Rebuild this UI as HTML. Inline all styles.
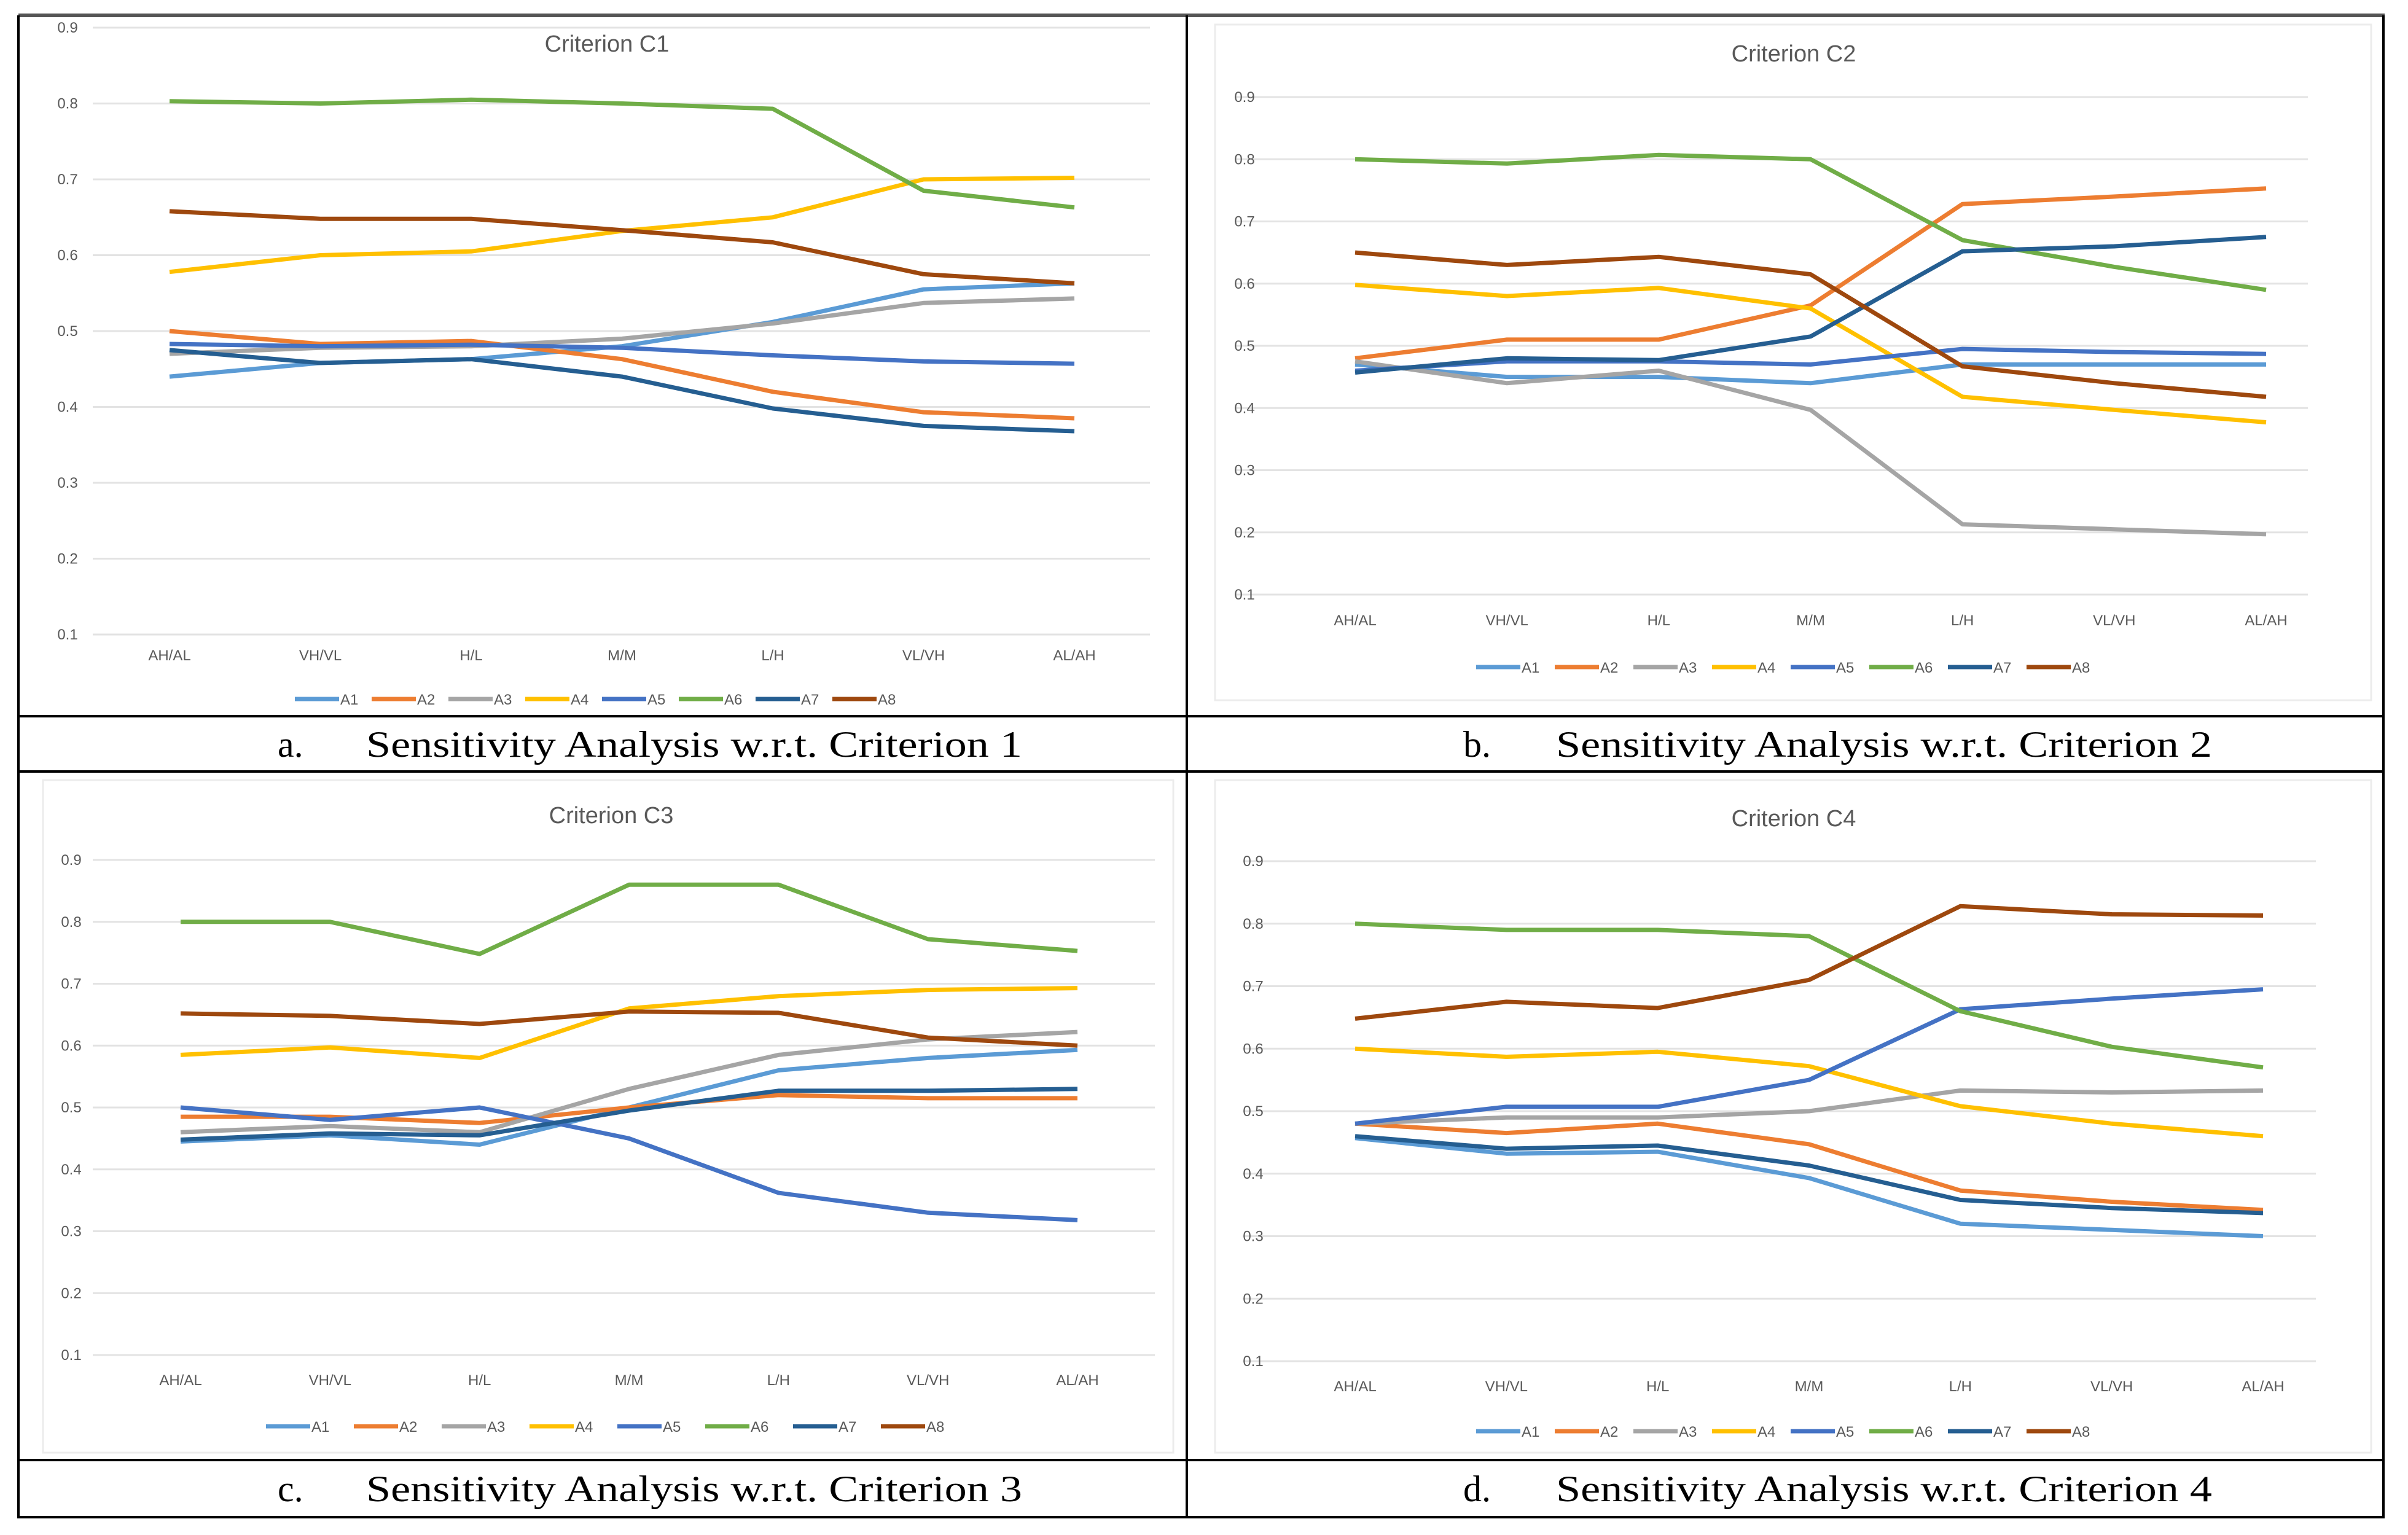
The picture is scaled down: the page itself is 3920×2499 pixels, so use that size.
<!DOCTYPE html>
<html><head><meta charset="utf-8">
<style>
html,body{margin:0;padding:0;background:#fff;}
svg{display:block;}
.tk{font-family:"Liberation Sans",sans-serif;font-size:24px;fill:#595959;}
.ttl{font-family:"Liberation Sans",sans-serif;font-size:38px;fill:#595959;}
.cap{font-family:"Liberation Serif",serif;font-size:60px;fill:#000;}
</style></head>
<body>
<svg id="page" width="3920" height="2499" viewBox="0 0 3920 2499" xmlns="http://www.w3.org/2000/svg">
<rect x="0" y="0" width="3920" height="2499" fill="#fff"/>
<g id="frame" stroke="#000" stroke-width="4" fill="none">
<line x1="30" y1="25" x2="3882" y2="25" stroke="#555" stroke-width="6"/>
<line x1="30" y1="25" x2="30" y2="2472"/>
<line x1="3880" y1="25" x2="3880" y2="2472"/>
<line x1="1932" y1="25" x2="1932" y2="2472"/>
<line x1="30" y1="1166" x2="3880" y2="1166"/>
<line x1="30" y1="1256" x2="3880" y2="1256"/>
<line x1="30" y1="2377" x2="3880" y2="2377"/>
<line x1="30" y1="2470" x2="3880" y2="2470"/>
</g>
<text class="cap" x="452" y="1232">a.</text>
<text class="cap" x="596" y="1232" textLength="1068" lengthAdjust="spacingAndGlyphs">Sensitivity Analysis w.r.t. Criterion 1</text>
<text class="cap" x="2382" y="1232">b.</text>
<text class="cap" x="2533" y="1232" textLength="1068" lengthAdjust="spacingAndGlyphs">Sensitivity Analysis w.r.t. Criterion 2</text>
<text class="cap" x="452" y="2444">c.</text>
<text class="cap" x="596" y="2444" textLength="1068" lengthAdjust="spacingAndGlyphs">Sensitivity Analysis w.r.t. Criterion 3</text>
<text class="cap" x="2382" y="2444">d.</text>
<text class="cap" x="2533" y="2444" textLength="1068" lengthAdjust="spacingAndGlyphs">Sensitivity Analysis w.r.t. Criterion 4</text>
</svg>
<script>
const categories = ["AH/AL","VH/VL","H/L","M/M","L/H","VL/VH","AL/AH"];
const seriesNames = ["A1","A2","A3","A4","A5","A6","A7","A8"];
const yTicks = [0.1,0.2,0.3,0.4,0.5,0.6,0.7,0.8,0.9];
const c1A1=[0.44,0.458,0.463,0.48,0.512,0.555,0.563];
const c1A2=[0.50,0.483,0.487,0.463,0.42,0.393,0.385];
const c1A3=[0.47,0.478,0.48,0.49,0.51,0.537,0.543];
const c1A4=[0.578,0.60,0.605,0.632,0.65,0.70,0.702];
const c1A5=[0.483,0.48,0.482,0.478,0.468,0.46,0.457];
const c1A6=[0.803,0.80,0.805,0.80,0.793,0.685,0.663];
const c1A7=[0.475,0.458,0.463,0.44,0.398,0.375,0.368];
const c1A8=[0.658,0.648,0.648,0.633,0.617,0.575,0.563];
const c2A1=[0.47,0.45,0.45,0.44,0.47,0.47,0.47];
const c2A2=[0.48,0.51,0.51,0.565,0.728,0.74,0.753];
const c2A3=[0.475,0.44,0.46,0.397,0.213,0.205,0.197];
const c2A4=[0.598,0.58,0.593,0.56,0.418,0.397,0.377];
const c2A5=[0.46,0.475,0.475,0.47,0.495,0.49,0.487];
const c2A6=[0.80,0.793,0.807,0.80,0.67,0.627,0.59];
const c2A7=[0.457,0.48,0.477,0.515,0.652,0.66,0.675];
const c2A8=[0.65,0.63,0.643,0.615,0.467,0.44,0.418];
const c3A1=[0.445,0.455,0.44,0.50,0.56,0.58,0.593];
const c3A2=[0.485,0.485,0.475,0.50,0.52,0.515,0.515];
const c3A3=[0.46,0.47,0.46,0.53,0.585,0.61,0.622];
const c3A4=[0.585,0.597,0.58,0.66,0.68,0.69,0.693];
const c3A5=[0.50,0.48,0.50,0.45,0.362,0.33,0.318];
const c3A6=[0.80,0.80,0.748,0.86,0.86,0.772,0.753];
const c3A7=[0.448,0.458,0.455,0.495,0.527,0.527,0.53];
const c3A8=[0.652,0.648,0.635,0.655,0.653,0.613,0.60];
const c4A1=[0.457,0.432,0.435,0.393,0.32,0.31,0.30];
const c4A2=[0.48,0.465,0.48,0.447,0.373,0.355,0.342];
const c4A3=[0.48,0.49,0.49,0.50,0.533,0.53,0.533];
const c4A4=[0.60,0.587,0.595,0.572,0.508,0.48,0.46];
const c4A5=[0.48,0.507,0.507,0.55,0.663,0.68,0.695];
const c4A6=[0.80,0.79,0.79,0.78,0.66,0.603,0.57];
const c4A7=[0.46,0.44,0.445,0.413,0.358,0.345,0.337];
const c4A8=[0.648,0.675,0.665,0.71,0.828,0.815,0.813];

const colors=["#5B9BD5","#ED7D31","#A5A5A5","#FFC000","#4472C4","#70AD47","#255E91","#9E480E"];
const NS="http://www.w3.org/2000/svg";
const svg=document.getElementById('page');
function mk(tag,attrs,parent){const e=document.createElementNS(NS,tag);for(const k in attrs)e.setAttribute(k,attrs[k]);(parent||svg).appendChild(e);return e;}

const panels=[
 {id:"c1",title:"Criterion C1",series:[c1A1,c1A2,c1A3,c1A4,c1A5,c1A6,c1A7,c1A8],gx0:151,gx1:1872,y9:45,y1:1033,cx0:276,cx1:1749,ylx:110,xly:1075,tx:988,ty:84,legY:1138,legC:980,legS:125,box:null},
 {id:"c2",title:"Criterion C2",series:[c2A1,c2A2,c2A3,c2A4,c2A5,c2A6,c2A7,c2A8],gx0:2010,gx1:3757,y9:158,y1:968,cx0:2206,cx1:3689,ylx:2026,xly:1018,tx:2920,ty:100,legY:1086,legC:2915,legS:128,box:[1978,40,3860,1140]},
 {id:"c3",title:"Criterion C3",series:[c3A1,c3A2,c3A3,c3A4,c3A5,c3A6,c3A7,c3A8],gx0:151,gx1:1880,y9:1400,y1:2206,cx0:294,cx1:1754,ylx:116,xly:2255,tx:995,ty:1340,legY:2322,legC:1005,legS:143,box:[70,1270,1910,2365]},
 {id:"c4",title:"Criterion C4",series:[c4A1,c4A2,c4A3,c4A4,c4A5,c4A6,c4A7,c4A8],gx0:2023,gx1:3770,y9:1402,y1:2216,cx0:2206,cx1:3684,ylx:2040,xly:2265,tx:2920,ty:1345,legY:2330,legC:2915,legS:128,box:[1978,1270,3860,2365]}
];

panels.forEach(p=>{
 const g=mk('g',{});
 
 
 if(p.box){
  const b=mk('rect',{x:p.box[0],y:p.box[1],width:p.box[2]-p.box[0],height:p.box[3]-p.box[1],fill:'none',stroke:'#ececec','stroke-width':3},g);
  
  
 }
 const yS=v=>p.y1+(v-0.1)/(0.8)*(p.y9-p.y1);
 const xS=i=>p.cx0+i*(p.cx1-p.cx0)/(categories.length-1);
 yTicks.forEach(t=>{
  const l=mk('line',{x1:p.gx0,x2:p.gx1,y1:yS(t),y2:yS(t),stroke:'#e3e3e3','stroke-width':3},g);
  
  
  const tx=mk('text',{x:p.ylx,y:yS(t)+8,'class':'tk','text-anchor':'middle'},g);
  tx.textContent=t.toFixed(1);
  
  
 });
 categories.forEach((c,i)=>{
  const tx=mk('text',{x:xS(i),y:p.xly,'class':'tk','text-anchor':'middle'},g);
  tx.textContent=c;
  
  
 });
 const tt=mk('text',{x:p.tx,y:p.ty,'class':'ttl','text-anchor':'middle'},g);
 tt.textContent=p.title;
 
 
 p.series.forEach((s,k)=>{
  const pts=s.map((v,i)=>xS(i).toFixed(1)+','+yS(v).toFixed(1)).join(' ');
  const pl=mk('polyline',{points:pts,fill:'none',stroke:colors[k],'stroke-width':7,'stroke-linejoin':'round'},g);
  
  
 });
 const start=p.legC-p.legS*4;
 seriesNames.forEach((n,k)=>{
  const x=start+k*p.legS;
  const lg=mk('g',{},g);
  
  
  mk('line',{x1:x,x2:x+72,y1:p.legY,y2:p.legY,stroke:colors[k],'stroke-width':7},lg);
  const t=mk('text',{x:x+74,y:p.legY+9,'class':'tk'},lg);
  t.textContent=n;
 });
});
</script>
</body></html>
